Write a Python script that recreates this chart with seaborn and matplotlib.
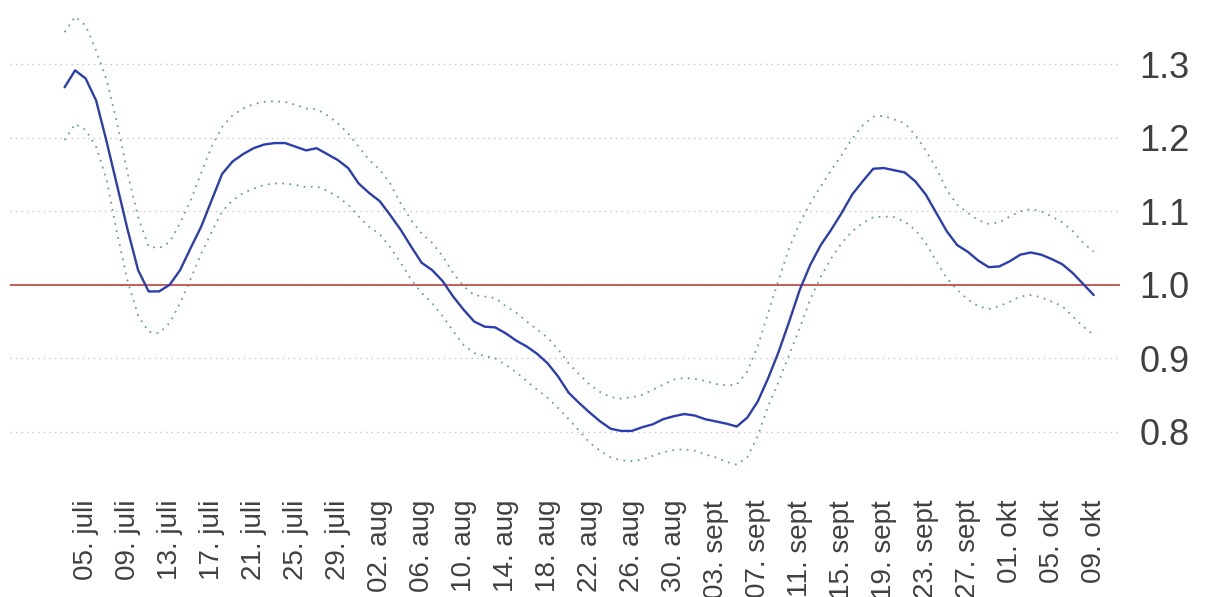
import numpy as np
import pandas as pd
import matplotlib
matplotlib.use("Agg")
import matplotlib.pyplot as plt
import seaborn as sns

start_date = "2020-07-03"

r_mid = [1.269, 1.292, 1.281, 1.251, 1.195, 1.135, 1.075, 1.020, 0.991, 0.991,
         1.000, 1.020, 1.050, 1.079, 1.115, 1.151, 1.168, 1.178, 1.186, 1.191,
         1.193, 1.193, 1.188, 1.183, 1.186, 1.178, 1.170, 1.159, 1.138, 1.125,
         1.114, 1.095, 1.075, 1.052, 1.030, 1.020, 1.005, 0.984, 0.966, 0.950,
         0.943, 0.942, 0.934, 0.924, 0.916, 0.906, 0.893, 0.875, 0.853, 0.839,
         0.826, 0.814, 0.804, 0.801, 0.801, 0.806, 0.810, 0.817, 0.821, 0.824,
         0.822, 0.817, 0.814, 0.811, 0.807, 0.819, 0.841, 0.873, 0.909, 0.950,
         0.993, 1.027, 1.054, 1.075, 1.098, 1.123, 1.141, 1.158, 1.159, 1.156,
         1.153, 1.141, 1.123, 1.098, 1.073, 1.054, 1.045, 1.033, 1.024, 1.025,
         1.032, 1.041, 1.044, 1.041, 1.035, 1.028, 1.016, 1.001, 0.986]

r_upper = [1.344, 1.365, 1.353, 1.319, 1.279, 1.220, 1.152, 1.092, 1.052, 1.050,
           1.058, 1.084, 1.115, 1.152, 1.188, 1.215, 1.231, 1.240, 1.246, 1.249,
           1.250, 1.249, 1.245, 1.240, 1.239, 1.231, 1.220, 1.206, 1.188, 1.170,
           1.157, 1.138, 1.111, 1.088, 1.070, 1.057, 1.039, 1.016, 0.998, 0.986,
           0.984, 0.982, 0.971, 0.962, 0.950, 0.939, 0.928, 0.912, 0.893, 0.878,
           0.864, 0.854, 0.847, 0.845, 0.847, 0.850, 0.857, 0.864, 0.871, 0.873,
           0.872, 0.869, 0.865, 0.863, 0.864, 0.882, 0.916, 0.962, 1.007, 1.050,
           1.084, 1.111, 1.134, 1.156, 1.177, 1.199, 1.217, 1.229, 1.230, 1.225,
           1.220, 1.204, 1.183, 1.159, 1.129, 1.109, 1.098, 1.088, 1.083, 1.085,
           1.093, 1.100, 1.103, 1.100, 1.093, 1.085, 1.073, 1.057, 1.045]

r_lower = [1.197, 1.219, 1.211, 1.188, 1.143, 1.070, 1.005, 0.958, 0.936, 0.934,
           0.948, 0.975, 1.008, 1.042, 1.072, 1.100, 1.115, 1.125, 1.131, 1.136,
           1.138, 1.138, 1.136, 1.133, 1.134, 1.128, 1.120, 1.109, 1.093, 1.079,
           1.069, 1.051, 1.030, 1.007, 0.989, 0.975, 0.957, 0.937, 0.918, 0.907,
           0.903, 0.900, 0.891, 0.881, 0.869, 0.857, 0.846, 0.832, 0.817, 0.801,
           0.785, 0.774, 0.765, 0.761, 0.760, 0.762, 0.767, 0.772, 0.775, 0.776,
           0.774, 0.769, 0.765, 0.759, 0.755, 0.765, 0.794, 0.835, 0.868, 0.905,
           0.941, 0.980, 1.011, 1.036, 1.057, 1.073, 1.084, 1.092, 1.093, 1.092,
           1.086, 1.075, 1.057, 1.032, 1.009, 0.993, 0.980, 0.971, 0.967, 0.971,
           0.977, 0.984, 0.986, 0.983, 0.977, 0.971, 0.957, 0.943, 0.932]

tick_dates = ["2020-07-05", "2020-07-09", "2020-07-13", "2020-07-17", "2020-07-21",
              "2020-07-25", "2020-07-29", "2020-08-02", "2020-08-06", "2020-08-10",
              "2020-08-14", "2020-08-18", "2020-08-22", "2020-08-26", "2020-08-30",
              "2020-09-03", "2020-09-07", "2020-09-11", "2020-09-15", "2020-09-19",
              "2020-09-23", "2020-09-27", "2020-10-01", "2020-10-05", "2020-10-09"]
tick_labels = ["05. juli", "09. juli", "13. juli", "17. juli", "21. juli",
               "25. juli", "29. juli", "02. aug", "06. aug", "10. aug",
               "14. aug", "18. aug", "22. aug", "26. aug", "30. aug",
               "03. sept", "07. sept", "11. sept", "15. sept", "19. sept",
               "23. sept", "27. sept", "01. okt", "05. okt", "09. okt"]
y_ticks = [0.8, 0.9, 1.0, 1.1, 1.2, 1.3]
y_ticklabels = ["0.8", "0.9", "1.0", "1.1", "1.2", "1.3"]
ref_level = 1.0

dates = pd.date_range(start_date, periods=len(r_mid), freq="D")
df = pd.DataFrame({"date": dates, "mid": r_mid, "upper": r_upper, "lower": r_lower})

sns.set_style("white")
plt.rcParams["font.family"] = ["Liberation Sans", "DejaVu Sans"]

fig = plt.figure(figsize=(12.06, 5.97), dpi=100)
ax = fig.add_axes([10 / 1206, 122 / 597, 1110 / 1206, 470 / 597])

grid_color = "#c4c4c4"
for yv in y_ticks:
    ax.axhline(yv, color=grid_color, lw=1.0, ls=(0, (1, 3)), zorder=0)

ci_color = "#6a9ea6"
sns.lineplot(data=df, x="date", y="upper", ax=ax, color=ci_color, lw=1.3,
             linestyle=(0, (1, 3)), zorder=2)
sns.lineplot(data=df, x="date", y="lower", ax=ax, color=ci_color, lw=1.3,
             linestyle=(0, (1, 3)), zorder=2)
ax.axhline(ref_level, color="#c0504d", lw=1.3, zorder=3)
sns.lineplot(data=df, x="date", y="mid", ax=ax, color="#2b3db0", lw=1.7, zorder=4)

ax.set_xlim(dates[0] - pd.Timedelta(days=5.2), dates[-1] + pd.Timedelta(days=2.5))
ax.set_ylim(0.741, 1.381)

ax.set_xticks(pd.to_datetime(tick_dates))
ax.set_xticklabels(tick_labels, rotation=90, fontsize=20, color="#404040")
ax.tick_params(axis="x", length=0, pad=18)

ax.yaxis.tick_right()
ax.set_yticks(y_ticks)
ax.set_yticklabels(y_ticklabels, fontsize=26, color="#404040")
ax.tick_params(axis="y", length=0, pad=14)

ax.set_xlabel("")
ax.set_ylabel("")
for s in ax.spines.values():
    s.set_visible(False)
ax.grid(False)

fig.savefig("out.png", dpi=100)
